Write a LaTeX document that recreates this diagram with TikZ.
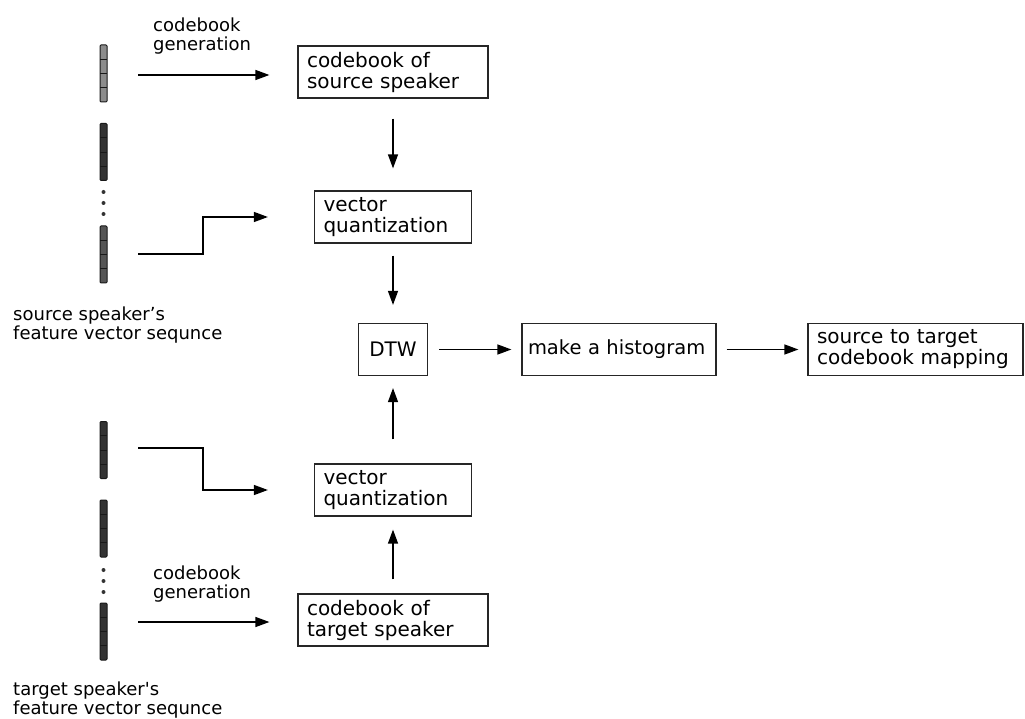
\documentclass[tikz,border=0pt]{standalone}
\usepackage{fontspec}
\setmainfont{DejaVu Sans}
\usetikzlibrary{arrows.meta,calc}
\definecolor{barlight}{HTML}{8C8C8C}
\definecolor{barmid}{HTML}{555555}
\definecolor{bardark}{HTML}{333333}
\hyphenpenalty=10000
\exhyphenpenalty=10000
\begin{document}
\begin{tikzpicture}[x=1pt,y=-1pt,
  box/.style={draw=black!85, line width=1.2pt, inner xsep=9pt, inner ysep=0pt,
    minimum height=52pt, align=left, font=\fontsize{20}{21}\selectfont},
  arr/.style={-{Triangle[length=14pt,width=10pt]}, line width=1.3pt},
  lbl/.style={inner sep=0pt, align=left, anchor=north west,
    font=\fontsize{18}{19}\selectfont},
  fvbar/.style={draw=black!90, line width=1pt, minimum width=7pt,
    minimum height=57pt, inner sep=0pt, rounded corners=1pt,
    path picture={\foreach \k in {0.25,0.5,0.75}
      \draw[black!90, line width=0.7pt]
        ($(path picture bounding box.north west)!\k!(path picture bounding box.south west)$) --
        ($(path picture bounding box.north east)!\k!(path picture bounding box.south east)$);}},
  vdot/.style={circle, fill=black!80, inner sep=0pt, minimum size=4pt}]

\useasboundingbox (0,0) rectangle (1025,719);

% processing blocks
\node[box, text width=172pt] (cbS) at (393,72) {codebook of\\source speaker};
\node[box, text width=139pt] (vqS) at (393,217) {vector\\quantization};
\node[box, text width=51pt, align=center] (dtw) at (393,349.5) {DTW};
\node[box, text width=182pt, inner xsep=6pt, font=\fontsize{19.5}{21}\selectfont] (hist) at (619,349.5) {make a histogram};
\node[box, text width=197pt] (map) at (915.5,349.5) {source to target\\codebook mapping};
\node[box, text width=139pt] (vqT) at (393,490) {vector\\quantization};
\node[box, text width=172pt] (cbT) at (393,620) {codebook of\\target speaker};

% feature vector sequences
\node[fvbar, fill=barlight] (sA) at (103.5,73.5) {};
\node[fvbar, fill=bardark]  (sB) at (103.5,152) {};
\node[vdot] (sd1) at (103.5,192) {};
\node[vdot] (sd2) at (103.5,203) {};
\node[vdot] (sd3) at (103.5,214) {};
\node[fvbar, fill=barmid]   (sC) at (103.5,254.5) {};

\node[fvbar, fill=bardark] (tA) at (103.5,450) {};
\node[fvbar, fill=bardark] (tB) at (103.5,528.5) {};
\node[vdot] (td1) at (103.5,570) {};
\node[vdot] (td2) at (103.5,581) {};
\node[vdot] (td3) at (103.5,592) {};
\node[fvbar, fill=bardark] (tC) at (103.5,631.5) {};

% labels
\node[lbl] (gsrc) at (153,18) {codebook\\generation};
\node[lbl] (lsrc) at (13,307) {source speaker's\\feature vector sequnce};
\node[lbl] (gtgt) at (153,566) {codebook\\generation};
\node[lbl] (ltgt) at (13,682) {target speaker\textquotesingle s\\feature vector sequnce};

% arrow start points beside the sequences
\coordinate (gS) at (138,75);
\coordinate (qS) at (138,254);
\coordinate (qT) at (138,448);
\coordinate (gT) at (138,622);

% connectors
\draw[arr, shorten >=28pt] (gS) -- (gS -| cbS.west);
\draw[arr] (qS) -- ++(65,0) |- ([xshift=-46pt]vqS.west);
\draw[arr] (qT) -- ++(65,0) |- ([xshift=-46pt]vqT.west);
\draw[arr, shorten >=28pt] (gT) -- (gT -| cbT.west);

\draw[arr, shorten <=20pt, shorten >=22pt] (cbS) -- (vqS);
\draw[arr, shorten <=12pt, shorten >=18pt] (vqS) -- (dtw);
\draw[arr, shorten <=24pt, shorten >=12pt] (vqT) -- (dtw);
\draw[arr, shorten <=14pt, shorten >=13pt] (cbT) -- (vqT);
\draw[arr, shorten <=11pt, shorten >=10pt] (dtw) -- (hist);
\draw[arr, shorten <=10pt, shorten >=9pt] (hist) -- (map);
\end{tikzpicture}
\end{document}
